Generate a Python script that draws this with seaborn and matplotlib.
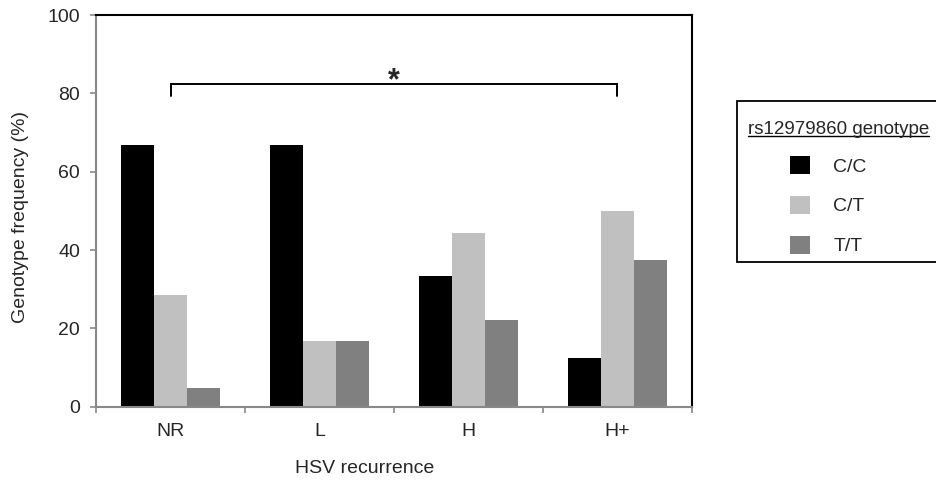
import numpy as np
import pandas as pd
import seaborn as sns
import matplotlib.pyplot as plt
from matplotlib.patches import Patch, Rectangle
from matplotlib.lines import Line2D

recurrence = ['NR', 'L', 'H', 'H+']
genotypes = ['C/C', 'C/T', 'T/T']
freq_cc = [66.7, 66.7, 33.3, 12.5]
freq_ct = [28.6, 16.7, 44.4, 50.0]
freq_tt = [4.8, 16.7, 22.2, 37.5]
colors = ['#000000', '#c0c0c0', '#808080']

df = pd.DataFrame({
    'recurrence': recurrence * 3,
    'genotype': np.repeat(genotypes, len(recurrence)),
    'freq': freq_cc + freq_ct + freq_tt,
})

sns.set_style('white')
plt.rcParams['font.family'] = ['Liberation Sans', 'DejaVu Sans']
fs = 14
W, H = 936, 484

fig = plt.figure(figsize=(W / 100, H / 100), dpi=100)
ax = fig.add_axes([96 / W, 1 - 406.7 / H, 596 / W, 391.7 / H])

sns.barplot(data=df, x='recurrence', y='freq', hue='genotype', order=recurrence,
            hue_order=genotypes, palette=colors, width=0.664, gap=0,
            saturation=1, linewidth=0, legend=False, ax=ax)

ax.set_ylim(0, 100)
ax.set_xlim(-0.5, 3.5)
ax.set_yticks(np.arange(0, 101, 20))
ax.tick_params(axis='y', labelsize=fs, length=4.5, width=1.2, color='#888888',
               direction='out', left=True, pad=7)
ax.tick_params(axis='x', which='major', labelsize=fs, length=0, pad=12)
ax.set_xticks(np.arange(-0.5, 4, 1), minor=True)
ax.tick_params(axis='x', which='minor', length=4.5, width=1.2, color='#888888',
               direction='out', bottom=True)

for side in ['left', 'bottom']:
    ax.spines[side].set_color('#888888')
    ax.spines[side].set_linewidth(1.5)
for side in ['top', 'right']:
    ax.spines[side].set_color('black')
    ax.spines[side].set_linewidth(1.5)

ax.set_xlabel('HSV recurrence', fontsize=fs)
ax.xaxis.set_label_coords(0.451, -0.135)
ax.set_ylabel('Genotype frequency (%)', fontsize=fs)
ax.yaxis.set_label_coords(-0.112, 0.485)

# significance bracket NR vs H+
ax.plot([0, 0, 3, 3], [79.2, 82.3, 82.3, 79.2], color='black', lw=1.4,
        solid_joinstyle='miter')
ax.text(1.5, 83.0, '*', ha='center', va='center', fontsize=22, fontweight='bold')

# legend: box, underlined title, entries
fig.add_artist(Rectangle((737 / W, 1 - 262 / H), 210 / W, 161 / H, transform=fig.transFigure,
                         facecolor='white', edgecolor='black', lw=1.3, clip_on=False))
title = fig.text(748 / W, 1 - 129.5 / H, 'rs12979860 genotype', fontsize=13.5,
                 ha='left', va='center')
fig.canvas.draw()
bb = title.get_window_extent().transformed(fig.transFigure.inverted())
fig.add_artist(Line2D([bb.x0, bb.x1], [bb.y0 + 2.5 / H, bb.y0 + 2.5 / H],
                      transform=fig.transFigure, color='black', lw=1.0))

handles = [Patch(facecolor=c, edgecolor='none', label=g) for c, g in zip(colors, genotypes)]
leg = fig.legend(handles=handles, loc='upper left', bbox_to_anchor=(790 / W, 1 - 156 / H),
                 borderaxespad=0, borderpad=0, fontsize=fs, frameon=False,
                 handlelength=1.03, handleheight=1.03, handletextpad=1.2,
                 labelspacing=1.05)

fig.savefig('out.png', dpi=100)
